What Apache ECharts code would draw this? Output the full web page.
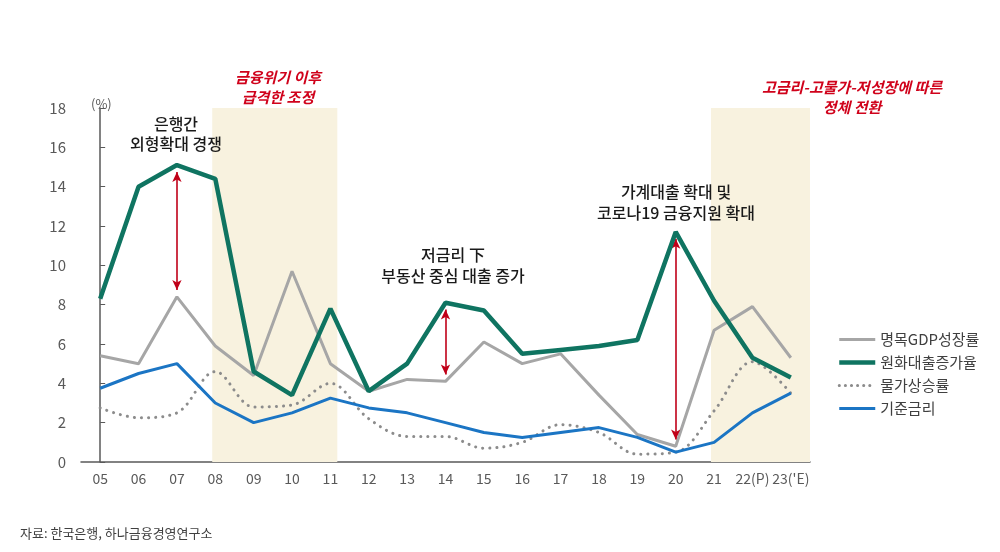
<!DOCTYPE html>
<html><head><meta charset="utf-8">
<script src="https://cdn.jsdelivr.net/npm/echarts@6/dist/echarts.min.js"></script>
<style>html,body{margin:0;padding:0;background:#fff;}#c{width:1000px;height:552px;}</style>
</head><body><div id="c"></div>
<script>
const categories = ['05','06','07','08','09','10','11','12','13','14','15','16','17','18','19','20','21','22(P)',"23('E)"];
const gdpGrowth = [5.4, 5.0, 8.4, 5.9, 4.4, 9.7, 5.0, 3.6, 4.2, 4.1, 6.1, 5.0, 5.5, 3.4, 1.4, 0.8, 6.7, 7.9, 5.3];
const loanGrowth = [8.3, 14.0, 15.1, 14.4, 4.6, 3.4, 7.8, 3.6, 5.0, 8.1, 7.7, 5.5, 5.7, 5.9, 6.2, 11.7, 8.2, 5.3, 4.3];
const inflation = [2.75, 2.25, 2.5, 4.6, 2.8, 2.9, 4.0, 2.2, 1.3, 1.3, 0.7, 1.0, 1.9, 1.5, 0.4, 0.5, 2.6, 5.1, 3.5];
const baseRate = [3.75, 4.5, 5.0, 3.0, 2.0, 2.5, 3.25, 2.75, 2.5, 2.0, 1.5, 1.25, 1.5, 1.75, 1.25, 0.5, 1.0, 2.5, 3.5];
const seriesNames = ['명목GDP성장률', '원화대출증가율', '물가상승률', '기준금리'];
const yTicks = [0, 2, 4, 6, 8, 10, 12, 14, 16, 18];
const arrowYears = ['07', '14', '20'];
const bands = [[2.92, 6.18], [15.92, 18.5]];

const FONT = "'Noto Sans CJK KR', 'Noto Sans', sans-serif";
const chart = echarts.init(document.getElementById('c'), null, {renderer: 'canvas'});

const arrowData = arrowYears.map(y => {
  const i = categories.indexOf(y);
  return [{coord: [i, loanGrowth[i] - 0.35]}, {coord: [i, gdpGrowth[i] + 0.35]}];
});

const lineStyles = [
  {color: '#a6a6a6', width: 3},
  {color: '#0f7461', width: 4.5},
  {color: '#8c8c8c', width: 3, type: [0.1, 7], cap: 'round'},
  {color: '#1b75c4', width: 3}
];

const option = {
  backgroundColor: '#ffffff',
  animation: false,
  textStyle: {fontFamily: FONT},
  grid: {left: 81, right: 190, top: 108, bottom: 90, containLabel: false},
  legend: {
    orient: 'vertical', left: 832, top: 327, itemGap: 8,
    itemWidth: 36, itemHeight: 14,
    itemStyle: {opacity: 0},
    textStyle: {fontFamily: FONT, fontSize: 15, color: '#404040'},
    data: seriesNames.map((n, i) => ({name: n, lineStyle: Object.assign({}, lineStyles[i], i === 2 ? {type: [0.1, 6]} : {})}))
  },
  xAxis: [{
    type: 'category', data: categories, boundaryGap: true,
    axisLine: {lineStyle: {color: '#595959', width: 1.5}},
    axisTick: {inside: true, length: 5, lineStyle: {color: '#595959'}},
    axisLabel: {color: '#595959', fontSize: 14, margin: 10, fontFamily: FONT, interval: 0}
  }, {
    type: 'value', min: -0.5, max: 18.5, show: false
  }],
  yAxis: {
    type: 'value', min: yTicks[0], max: yTicks[yTicks.length - 1], interval: 2,
    axisLine: {show: true, lineStyle: {color: '#595959', width: 1.5}},
    axisTick: {show: true, inside: true, length: 5, lineStyle: {color: '#595959'}},
    splitLine: {show: false},
    axisLabel: {color: '#595959', fontSize: 15, margin: 15, fontFamily: FONT}
  },
  series: [
    {
      type: 'line', xAxisIndex: 1, data: [], silent: true, z: 0,
      markArea: {
        silent: true,
        itemStyle: {
          color: '#f8f2df',
          decal: {symbol: 'rect', dashArrayX: [1, 0], dashArrayY: [1, 3], rotation: -Math.PI / 4, color: 'rgba(255,255,255,0.35)'}
        },
        data: bands.map(b => [{xAxis: b[0], yAxis: yTicks[0]}, {xAxis: b[1], yAxis: yTicks[yTicks.length - 1]}])
      }
    },
    {
      name: seriesNames[0], type: 'line', data: gdpGrowth, symbol: 'none',
      lineStyle: lineStyles[0], itemStyle: {color: lineStyles[0].color}, z: 3
    },
    {
      name: seriesNames[1], type: 'line', data: loanGrowth, symbol: 'none',
      lineStyle: lineStyles[1], itemStyle: {color: lineStyles[1].color}, z: 5,
      markLine: {
        silent: true, symbol: ['arrow', 'arrow'], symbolSize: [7, 10],
        label: {show: false},
        lineStyle: {color: '#c00018', width: 1.6, type: 'solid'},
        data: arrowData
      }
    },
    {
      name: seriesNames[2], type: 'line', data: inflation, symbol: 'none', smooth: 0.35,
      lineStyle: lineStyles[2], itemStyle: {color: lineStyles[2].color}, z: 2
    },
    {
      name: seriesNames[3], type: 'line', data: baseRate, symbol: 'none',
      lineStyle: lineStyles[3], itemStyle: {color: lineStyles[3].color}, z: 4
    }
  ],
  graphic: {elements: [
    {type: 'text', z: 100, left: 91, top: 98, style: {text: '(%)', fill: '#595959', font: '13px ' + FONT}},
    {type: 'text', z: 100, x: 176, y: 114, style: {text: '은행간\n외형확대 경쟁', fill: '#1a1a1a', font: '500 16px ' + FONT, textAlign: 'center', lineHeight: 20}},
    {type: 'text', z: 100, x: 278, y: 67, style: {text: '금융위기 이후\n급격한 조정', fill: '#d0021b', font: 'italic bold 15px ' + FONT, textAlign: 'center', lineHeight: 20}},
    {type: 'text', z: 100, x: 453, y: 244, style: {text: '저금리 下\n부동산 중심 대출 증가', fill: '#1a1a1a', font: '500 16px ' + FONT, textAlign: 'center', lineHeight: 21}},
    {type: 'text', z: 100, x: 676, y: 181, style: {text: '가계대출 확대 및\n코로나19 금융지원 확대', fill: '#1a1a1a', font: '500 16px ' + FONT, textAlign: 'center', lineHeight: 21}},
    {type: 'text', z: 100, x: 852, y: 77, style: {text: '고금리-고물가-저성장에 따른\n정체 전환', fill: '#d0021b', font: 'italic bold 15px ' + FONT, textAlign: 'center', lineHeight: 20}},
    {type: 'text', z: 100, left: 20, top: 527, style: {text: '자료: 한국은행, 하나금융경영연구소', fill: '#404040', font: '13px ' + FONT}}
  ]}
};
chart.setOption(option);
</script>
</body></html>
